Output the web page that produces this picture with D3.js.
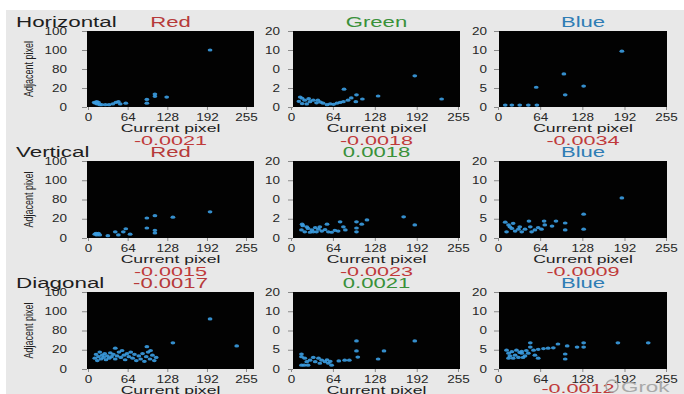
<!DOCTYPE html>
<html>
<head>
<meta charset="utf-8">
<script src="https://cdn.jsdelivr.net/npm/d3@7"></script>
<style>
  body { margin: 0; background: #fff; }
  text { font-family: "Liberation Sans", Arial, Helvetica, sans-serif; }
</style>
</head>
<body>
<script>
// [current pixel, adjacent pixel] pairs
var hRed = [[197,75],[108,17],[108,14],[127,13],[95,10],[95,5],[49,7],[61,5],[14,7],[12,5],[19,3],[28,3],[40,4],[15,4],[22,3],[34,3],[45,6],[52,4],[10,6],[17,6]];
var hGreen = [[189,8.2],[230,2.1],[133,2.9],[81,4.7],[100,3.2],[109,2.1],[99,1.4],[17,2.3],[21,1.8],[17,0.9],[29,1.4],[39,1.1],[49,1.0],[60,0.8],[70,1.0],[80,1.4],[87,1.8],[41,1.8],[24,0.8],[34,1.8],[55,0.6],[12,1.5],[14,2.6],[27,2.2],[45,1.3],[65,0.7],[75,1.2],[92,2.4]];
var hBlue = [[188,14.7],[100,8.7],[102,3.2],[130,5.5],[58,5.2],[11,0.5],[21,0.5],[33,0.5],[46,0.5],[59,0.5]];
var vRed = [[197,34],[137,27],[108,29],[95,26],[95,13],[108,10],[108,6.5],[61,12],[44,8],[57,8],[68,5],[49,4],[32,3],[11,5],[14,4],[17,6],[19,4],[13,6]];
var vGreen = [[172,5.5],[189,3.4],[116,4.7],[100,4.2],[108,3.6],[75,4.2],[80,2.9],[100,2.6],[100,1.6],[83,2.1],[72,1.8],[55,3.6],[17,3.6],[16,2.1],[21,1.6],[26,2.5],[32,2.1],[37,2.7],[42,2.3],[47,1.8],[52,2.2],[57,1.6],[62,1.5],[67,2.0],[24,2.9],[34,1.6],[44,2.9],[18,3.2],[29,1.5],[39,1.6]];
var vBlue = [[188,10.4],[130,6.2],[130,2.3],[102,3.9],[102,2.1],[88,4.4],[70,4.4],[71,3.4],[82,3.1],[47,4.4],[11,4.1],[16,3.4],[21,2.5],[26,1.8],[33,2.9],[41,2.3],[49,2.9],[56,2.1],[61,2.7],[13,1.6],[23,3.8],[36,1.6],[51,1.6],[66,2.3],[18,2.9],[31,2.3]];
var dRed = [[197,65],[240,30],[137,34],[95,29],[44,27],[11,14],[13,19],[15,11],[17,16],[19,22],[21,13],[23,18],[25,15],[27,20],[29,12],[31,17],[34,14],[36,21],[38,16],[41,19],[44,13],[47,17],[50,22],[53,15],[55,24],[58,18],[60,12],[63,20],[66,16],[69,22],[72,14],[75,19],[78,11],[82,17],[85,13],[88,20],[91,10],[94,16],[97,22],[100,13],[104,18],[107,11],[110,15],[101,24]];
var dGreen = [[189,7.3],[100,7.3],[100,4.7],[142,4.7],[102,3.1],[133,2.6],[89,2.3],[82,2.3],[73,2.1],[16,3.9],[16,3.2],[21,2.8],[16,1.0],[26,1.0],[29,2.3],[37,1.9],[42,2.8],[47,2.3],[52,1.9],[57,1.5],[62,1.0],[34,3.0],[44,1.5],[24,1.9],[55,2.4],[60,2.0],[20,1.0]];
var dBlue = [[228,6.8],[182,6.8],[130,6.8],[130,5.7],[120,5.7],[105,6.0],[91,6.5],[102,3.9],[102,2.6],[49,6.8],[49,5.7],[36,4.6],[43,4.8],[54,4.9],[61,5.1],[69,5.3],[76,5.4],[84,5.5],[56,3.6],[61,2.8],[13,4.9],[16,4.1],[18,3.4],[21,4.5],[26,3.6],[31,3.0],[36,4.1],[41,3.4],[23,2.8],[16,2.8],[46,4.1],[28,4.9],[33,4.3],[38,3.0]];

var panels = [[hRed, hGreen, hBlue], [vRed, vGreen, vBlue], [dRed, dGreen, dBlue]];

var rowNames = ["Horizontal", "Vertical", "Diagonal"];
var xTicks = [0, 64, 128, 192, 255];
// y tick labels as printed on the slide (bottom to top)
var yLabels = [
  [["0","20","80","100","100"], ["0","2","0","10","20"], ["0","5","0","10","20"]],
  [["0","20","80","100","100"], ["0","2","0","10","20"], ["0","5","0","10","20"]],
  [["0","20","80","100","100"], ["0","5","0","10","20"], ["0","5","0","10","20"]]
];
var yMaxes = [100, 20, 20];
var topText = [["Red","Green","Blue"], ["Red","0.0018","Blue"], ["-0.0017","0.0021","Blue"]];
var topKind = [["red","green","blue"], ["red","green","blue"], ["red","green","blue"]];
var bottomText = [["-0.0021","-0.0018","-0.0034"], ["-0.0015","-0.0023","-0.0009"], ["","","-0.0012"]];

var colors = { red: "#b63a3a", green: "#3a913a", blue: "#2f7db5" };

var width = 684;
var height = 394;
var svg = d3
  .select("body")
  .append("svg")
  .attr("width", width)
  .attr("height", height);

svg
  .append("rect")
  .attr("x", 6)
  .attr("y", 10)
  .attr("width", width - 6)
  .attr("height", height - 10)
  .attr("fill", "#e8e8e8");

var cols = [
  { left: 87, right: 254, x0: 88, x1: 246, lab: 67 },
  { left: 293, right: 460, x0: 291, x1: 458, lab: 280 },
  { left: 499, right: 667, x0: 498, x1: 666, lab: 487 }
];
var rows = [
  { top: 31, bottom: 107 },
  { top: 161, bottom: 238 },
  { top: 292, bottom: 369 }
];

// slide text is stretched sideways
function label(x, y, str, size, sx, anchor, color) {
  svg
    .append("text")
    .attr("transform", "translate(" + x + "," + y + ") scale(" + sx + ",1)")
    .attr("text-anchor", anchor)
    .attr("font-size", size)
    .attr("fill", color)
    .text(str);
}

for (var r = 0; r < 3; r++) {
  var row = rows[r];
  label(16, row.top - 4, rowNames[r], 14, 1.6, "start", "#1e1e1e");
  for (var c = 0; c < 3; c++) {
    var col = cols[c];
    var cx = (col.left + col.right) / 2;
    var yMax = yMaxes[c];
    var xScale = d3.scaleLinear().domain([0, 255]).range([col.x0, col.x1]);
    var yScale = d3.scaleLinear().domain([0, yMax]).range([row.bottom, row.top]);

    svg
      .append("rect")
      .attr("x", col.left)
      .attr("y", row.top)
      .attr("width", col.right - col.left)
      .attr("height", row.bottom - row.top)
      .attr("fill", "#020202");

    var labs = yLabels[r][c];
    var yAxis = svg
      .append("g")
      .attr("transform", "translate(" + col.left + ",0)")
      .call(
        d3.axisLeft(yScale)
          .tickValues(d3.range(5).map(function(i) { return (i * yMax) / 4; }))
          .tickFormat(function(d, i) { return labs[i]; })
          .tickSize(5)
      );
    yAxis.select(".domain").remove();
    yAxis.selectAll("line").attr("stroke", "#8a8a8a");
    yAxis
      .selectAll("text")
      .attr("x", 0)
      .attr("fill", "#262626")
      .attr("font-size", 10)
      .attr("font-family", null)
      .attr("transform", "translate(" + (col.lab - col.left) + ",0) scale(1.35,1)");

    var xAxis = svg
      .append("g")
      .attr("transform", "translate(0," + row.bottom + ")")
      .call(d3.axisBottom(xScale).tickValues(xTicks).tickSize(3));
    xAxis.select(".domain").remove();
    xAxis.selectAll("line").attr("stroke", "#8a8a8a");
    xAxis
      .selectAll("text")
      .attr("y", 0)
      .attr("dy", null)
      .attr("fill", "#262626")
      .attr("font-size", 10)
      .attr("font-family", null)
      .attr("transform", "translate(0,13.5) scale(1.35,1)");

    svg
      .append("g")
      .selectAll("ellipse")
      .data(panels[r][c])
      .enter()
      .append("ellipse")
      .attr("cx", function(d) { return xScale(d[0]); })
      .attr("cy", function(d) { return yScale(d[1]); })
      .attr("rx", 2.4)
      .attr("ry", 1.6)
      .attr("fill", "#3b9de2")
      .attr("opacity", 0.9);

    label(cx, row.top - 4, topText[r][c], 13.8, 1.6, "middle", colors[topKind[r][c]]);

    if (r == 2 && c == 2) {
      label(cx - 5, row.bottom + 24, bottomText[r][c], 13.5, 1.6, "middle", "#c03a3a");
    } else {
      label(cx, row.bottom + 25, "Current pixel", 11, 1.6, "middle", "#1e1e1e");
      if (bottomText[r][c] != "") {
        label(cx, row.bottom + 38, bottomText[r][c], 13.5, 1.6, "middle", "#c03a3a");
      }
    }

    if (c == 0) {
      svg
        .append("text")
        .attr("transform", "translate(33," + (row.top + row.bottom) / 2 + ") scale(1.5,1) rotate(-90)")
        .attr("text-anchor", "middle")
        .attr("font-size", 9)
        .attr("fill", "#1e1e1e")
        .text("Adjacent pixel");
    }
  }
}

// watermark in the corner
svg
  .append("circle")
  .attr("cx", 612)
  .attr("cy", 386)
  .attr("r", 6)
  .attr("fill", "none")
  .attr("stroke", "#a8a8a8")
  .attr("stroke-width", 1.5);
label(621, 392, "Grok", 14, 1.6, "start", "#a8a8a8");
</script>
</body>
</html>
